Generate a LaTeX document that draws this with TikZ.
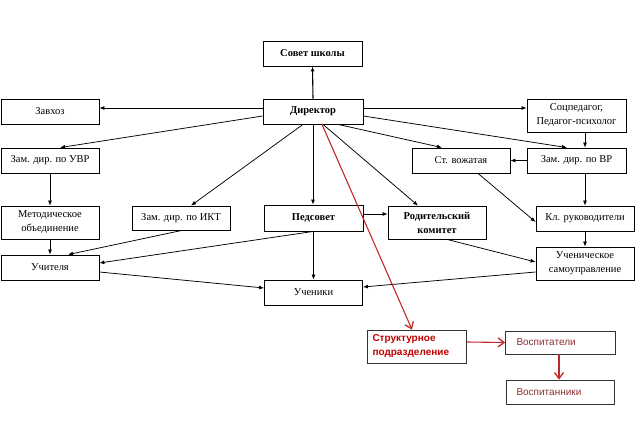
\documentclass[tikz,border=0pt]{standalone}
\usepackage{fontspec}
\setmainfont{Liberation Serif}
\newfontfamily\arialf{Liberation Sans}
\usetikzlibrary{arrows.meta,calc}
\definecolor{redline}{HTML}{C0282A}
\definecolor{redtext}{HTML}{C00000}
\definecolor{browntext}{HTML}{8B3030}
\definecolor{boxgray}{HTML}{333333}
\tikzset{
  box/.style={draw, line width=0.8pt, inner sep=0pt, align=center, font=\fontsize{10.5}{14}\selectfont},
  bbox/.style={box, font=\fontsize{10.5}{14}\selectfont\bfseries},
  rbox/.style={line width=0.8pt, inner sep=0pt, font=\arialf\fontsize{10}{14}\selectfont},
  conn/.style={line width=0.75pt, -{Latex[length=5pt,width=4pt]}},
  rconn/.style={line width=1.1pt, draw=redline, -{Straight Barb[length=6pt,width=9pt,line width=1.3pt]}},
}
\begin{document}
\begin{tikzpicture}[x=1pt,y=-1pt]
\useasboundingbox (0,0) rectangle (640,425);
% nodes
\node[bbox, minimum width=99, minimum height=25] (sovet) at (312.5,53.5) {Совет школы};
\node[bbox, minimum width=100, minimum height=25] (dir) at (313,111.5) {Директор};
\node[box, minimum width=98, minimum height=25] (zavhoz) at (50,111.5) {Завхоз};
\node[box, minimum width=98, minimum height=25] (uvr) at (50,160.5) {Зам. дир. по УВР};
\node[box, minimum width=98, minimum height=33] (metod) at (50,222.5) {Методическое\\объединение};
\node[box, minimum width=98, minimum height=25] (uchit) at (50,267.5) {Учителя};
\node[box, minimum width=98, minimum height=24] (ikt) at (181,218) {Зам. дир. по ИКТ};
\node[bbox, minimum width=99, minimum height=26] (ped) at (313.5,218) {Педсовет};
\node[box, minimum width=98, minimum height=25] (uchen) at (313.5,292.5) {Ученики};
\node[bbox, minimum width=98, minimum height=33] (rod) at (437,222.5) {Родительский\\комитет};
\node[box, minimum width=98, minimum height=25] (klr) at (585,218.5) {Кл. руководители};
\node[box, minimum width=98, minimum height=33] (samo) at (585,263.5) {Ученическое\\самоуправление};
\node[box, minimum width=98, minimum height=25] (vozh) at (461,160.5) {Ст. вожатая};
\node[box, minimum width=99, minimum height=25] (vr) at (576.5,160.5) {Зам. дир. по ВР};
\node[box, minimum width=99, minimum height=33] (socp) at (576.5,115.5) {Соцпедагог,\\Педагог-психолог};
\node[rbox, draw=boxgray, minimum width=99, minimum height=33, align=left, text width=88pt, inner xsep=5.5pt, text=redtext, font=\arialf\bfseries\fontsize{10}{14}\selectfont] (strukt) at (416.5,346.5) {Структурное\\подразделение};
\node[rbox, draw=boxgray, minimum width=99, minimum height=23, align=left, text width=88pt, inner xsep=11pt, text=browntext] (vospt) at (560.5,342.5) {Воспитатели};
\node[rbox, draw=boxgray, minimum width=99, minimum height=24, align=left, text width=88pt, inner xsep=10pt, text=browntext] (vospn) at (560.5,392) {Воспитанники};
% connectors
\draw[conn, line width=1.1pt] (dir.north) -- (sovet.south);
\draw[conn] ([yshift=3.5pt]dir.west) -- ([yshift=3.5pt]zavhoz.east);
\draw[conn] ([yshift=-4.5pt]dir.west) -- ([xshift=10pt]uvr.north);
\draw[conn] ([xshift=-10pt]dir.south) -- ([xshift=10pt]ikt.north);
\draw[conn] (dir.south) -- (ped.north -| dir.south);
\draw[conn] ([xshift=10pt]dir.south) -- ([xshift=-19pt]rod.north);
\draw[conn] ([xshift=25pt]dir.south) -- ([xshift=-19pt]vozh.north);
\draw[conn] ([yshift=-4.5pt]dir.east) -- ([xshift=-9.5pt]vr.north);
\draw[conn] ([yshift=3.5pt]dir.east) -- ([yshift=7.5pt]socp.west);
\draw[conn] ([xshift=8.5pt]socp.south) -- ([xshift=8.5pt]vr.north);
\draw[conn] (vr.west) -- (vozh.east);
\draw[conn] ([xshift=17pt]vozh.south) -- ([yshift=-3.5pt]klr.west);
\draw[conn] ([xshift=8.5pt]vr.south) -- (klr.north);
\draw[conn] (klr.south) -- (samo.north);
\draw[conn] ([xshift=10pt]rod.south) -- ([yshift=1.5pt]samo.west);
\draw[conn] ([yshift=-8.5pt]samo.west) -- ([yshift=5.5pt]uchen.east);
\draw[conn] ([yshift=4pt]ped.east) -- ([yshift=8.5pt]rod.west);
\draw[conn] (ped.south) -- (uchen.north);
\draw[conn] (ped.south) -- ([yshift=4.5pt]uchit.east);
\draw[conn] ([xshift=1pt]ikt.south) -- ([xshift=18pt]uchit.north);
\draw[conn] (metod.south) -- (uchit.north);
\draw[conn] (uvr.south) -- (metod.north);
\draw[conn] ([yshift=-4.5pt]uchit.east) -- ([yshift=4.5pt]uchen.west);
\draw[rconn] ([xshift=9pt]dir.south) -- ([xshift=-4.5pt]strukt.north);
\draw[rconn] ([yshift=4.5pt]strukt.east) -- (vospt.west);
\draw[rconn] ([xshift=-1.5pt]vospt.south) -- ([xshift=-1.5pt]vospn.north);
\end{tikzpicture}
\end{document}
